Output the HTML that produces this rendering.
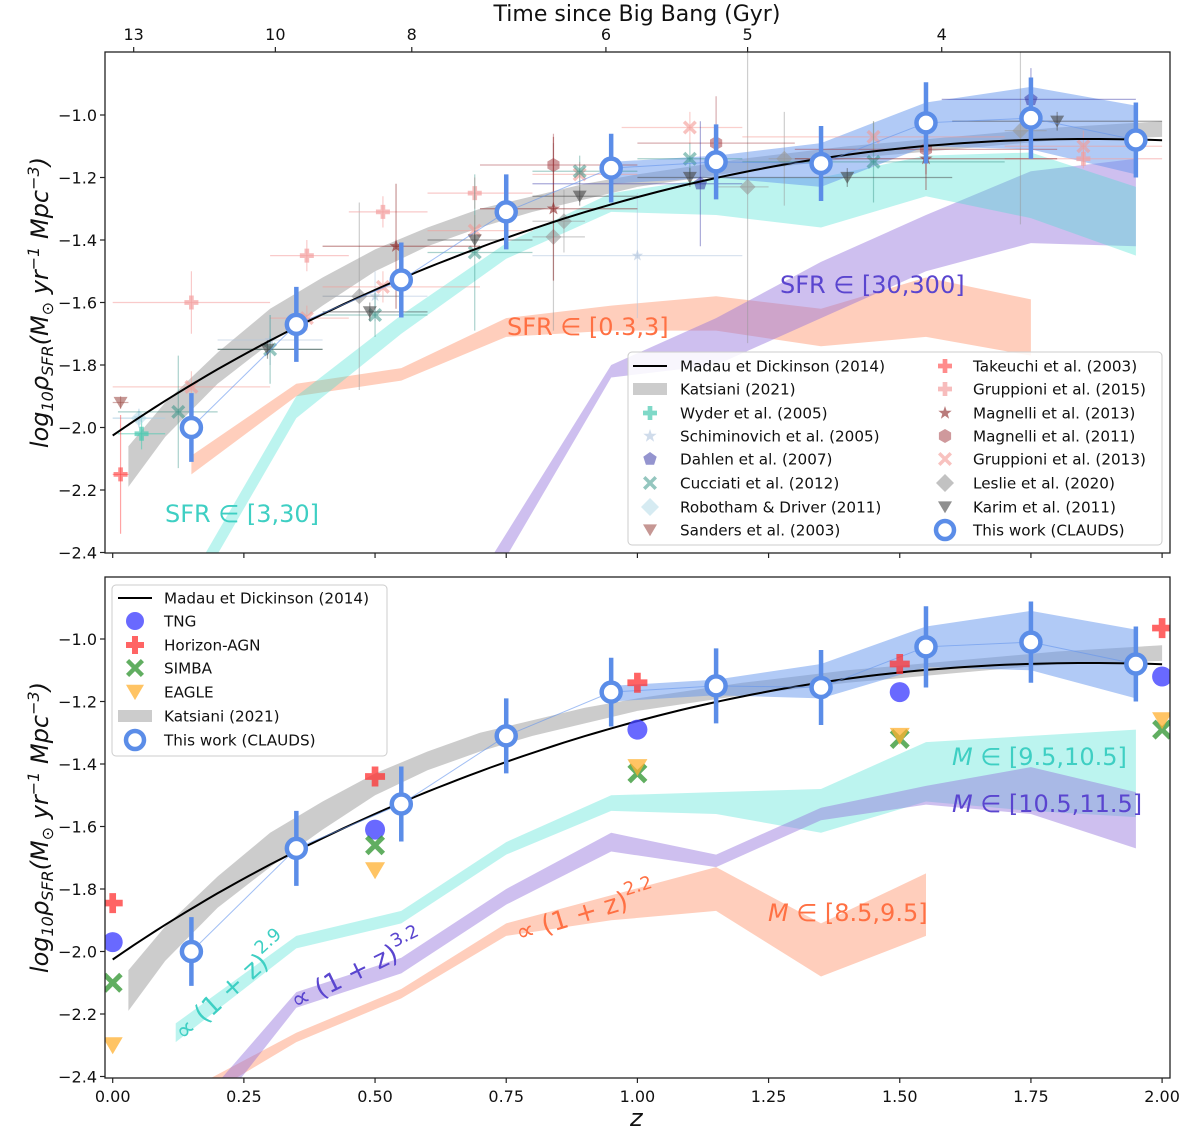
<!DOCTYPE html>
<html><head><meta charset="utf-8"><style>
html,body{margin:0;padding:0;background:#fff}
svg{display:block;font-family:"DejaVu Sans","Liberation Sans",sans-serif}
</style></head><body>
<svg id="fig" width="1200" height="1133" viewBox="0 0 1200 1133" xmlns="http://www.w3.org/2000/svg">
<defs>
<clipPath id="clipTop"><rect x="105" y="52" width="1065" height="501"/></clipPath>
<clipPath id="clipBot"><rect x="105" y="577" width="1065" height="501"/></clipPath>
</defs>
<g id="topPanel"></g>
<g id="botPanel"></g>
</svg>
<script>
// ---------- data ----------
const claudsZ = [0.15,0.35,0.55,0.75,0.95,1.15,1.35,1.55,1.75,1.95];
const claudsV = [-2.00,-1.67,-1.528,-1.31,-1.17,-1.15,-1.155,-1.025,-1.01,-1.08];
const claudsErr = [0.11,0.12,0.12,0.12,0.11,0.12,0.12,0.13,0.13,0.12];
const katZ  = [0.03,0.1,0.2,0.3,0.4,0.5,0.6,0.7,0.8,0.9,1.0,1.2,1.4,1.6,1.8,2.0];
const katLo = [-2.19,-2.03,-1.86,-1.73,-1.61,-1.50,-1.42,-1.36,-1.31,-1.27,-1.23,-1.18,-1.14,-1.11,-1.08,-1.07];
const katHi = [-2.06,-1.92,-1.76,-1.62,-1.52,-1.43,-1.36,-1.30,-1.26,-1.22,-1.19,-1.14,-1.10,-1.07,-1.04,-1.02];
const blueZ = [0.95,1.15,1.35,1.55,1.75,1.95];
const blueTopHi = [-1.15,-1.13,-1.09,-0.96,-0.91,-0.97];
const blueTopLo = [-1.22,-1.20,-1.23,-1.10,-1.11,-1.19];
const blueBotHi = [-1.15,-1.13,-1.08,-0.96,-0.91,-0.97];
const blueBotLo = [-1.20,-1.18,-1.19,-1.09,-1.10,-1.19];
const sfrMidZ = [0.15,0.35,0.55,0.75,0.95,1.15,1.35,1.55,1.75,1.95];
const sfrMidLo = [-2.55,-1.97,-1.70,-1.46,-1.31,-1.32,-1.36,-1.26,-1.33,-1.45];
const sfrMidHi = [-2.48,-1.90,-1.64,-1.41,-1.25,-1.20,-1.20,-1.13,-1.12,-1.23];
const sfrLowZ = [0.15,0.35,0.55,0.75,0.95,1.15,1.35,1.55,1.75];
const sfrLowLo = [-2.15,-1.90,-1.85,-1.71,-1.69,-1.69,-1.74,-1.71,-1.77];
const sfrLowHi = [-2.09,-1.86,-1.81,-1.65,-1.61,-1.58,-1.62,-1.52,-1.59];
const sfrHighZ = [0.72,0.95,1.15,1.35,1.55,1.75,1.95];
const sfrHighLo = [-2.50,-1.84,-1.80,-1.65,-1.50,-1.41,-1.42];
const sfrHighHi = [-2.42,-1.80,-1.65,-1.47,-1.32,-1.18,-1.14];
const mMidZ = [0.12,0.35,0.55,0.75,0.95,1.15,1.35,1.55,1.75,1.95];
const mMidLo = [-2.29,-1.99,-1.91,-1.69,-1.55,-1.56,-1.62,-1.52,-1.55,-1.57];
const mMidHi = [-2.23,-1.95,-1.87,-1.65,-1.50,-1.49,-1.48,-1.33,-1.31,-1.29];
const mHighZ = [0.20,0.35,0.55,0.75,0.95,1.15,1.35,1.55,1.75,1.95];
const mHighLo = [-2.50,-2.18,-2.07,-1.85,-1.68,-1.73,-1.58,-1.53,-1.56,-1.67];
const mHighHi = [-2.42,-2.13,-2.02,-1.80,-1.62,-1.69,-1.54,-1.47,-1.41,-1.49];
const mLowZ = [0.17,0.35,0.55,0.75,0.95,1.15,1.35,1.55];
const mLowLo = [-2.47,-2.29,-2.15,-1.95,-1.90,-1.87,-2.08,-1.95];
const mLowHi = [-2.42,-2.26,-2.12,-1.91,-1.82,-1.73,-1.91,-1.75];
const simZ = [0,0.5,1.0,1.5,2.0];
const tngV = [-1.97,-1.61,-1.29,-1.17,-1.12];
const hagnV = [-1.845,-1.44,-1.14,-1.08,-0.965];
const simbaV = [-2.10,-1.66,-1.43,-1.32,-1.29];
const eagleV = [-2.30,-1.74,-1.41,-1.31,-1.26];
const wyder = [[0.055,-2.02,0.01,0.1,0.05]];
const schim = [[0.05,-1.97,0.0,0.1,0.03],[0.3,-1.72,0.2,0.4,0.08],[0.5,-1.58,0.4,0.6,0.08],[1.0,-1.45,0.8,1.2,0.2]];
const dahlen = [[1.12,-1.22,0.8,1.2,0.2],[1.75,-0.95,1.58,1.95,0.1]];
const cucciati = [[0.125,-1.95,0.01,0.2,0.18],[0.3,-1.75,0.2,0.4,0.11],[0.5,-1.64,0.4,0.6,0.07],[0.69,-1.44,0.6,0.8,0.25],[0.89,-1.18,0.8,1.0,0.05],[1.1,-1.14,1.0,1.2,0.05],[1.45,-1.15,1.2,1.7,0.13]];
const robotham = [[0.05,-1.97,0.0,0.1,0.03]];
const sanders = [[0.015,-1.92,0.0,0.03,0.02]];
const takeuchi = [[0.015,-2.15,0.0,0.03,0.19]];
const grup15 = [[0.15,-1.60,0.0,0.3,0.1],[0.37,-1.45,0.3,0.45,0.05],[0.515,-1.31,0.45,0.6,0.05],[0.69,-1.25,0.6,0.8,0.05],[1.85,-1.14,1.7,2.0,0.03]];
const magn13 = [[0.54,-1.42,0.4,0.7,0.2],[0.84,-1.30,0.7,1.0,0.23],[1.55,-1.14,1.3,1.8,0.1]];
const magn11 = [[0.84,-1.16,0.7,1.0,0.1],[1.15,-1.09,1.0,1.3,0.15],[1.55,-1.11,1.3,1.8,0.08]];
const grup13 = [[0.15,-1.87,0.0,0.3,0.05],[0.37,-1.65,0.3,0.45,0.04],[0.515,-1.55,0.4,0.7,0.05],[0.69,-1.37,0.6,0.8,0.05],[0.89,-1.19,0.8,1.0,0.04],[1.1,-1.04,0.97,1.2,0.05],[1.45,-1.07,1.2,1.7,0.05],[1.85,-1.10,1.7,2.0,0.05]];
const leslie = [[0.47,-1.58,0.4,0.55,0.3],[0.84,-1.39,0.8,0.9,0.3],[0.86,-1.34,0.8,0.9,0.1],[1.21,-1.23,1.15,1.25,0.5],[1.28,-1.14,1.25,1.35,0.15],[1.73,-1.05,1.7,1.78,0.3]];
const karim = [[0.295,-1.75,0.2,0.4,0.03],[0.49,-1.63,0.4,0.6,0.03],[0.69,-1.40,0.6,0.8,0.03],[0.89,-1.26,0.8,1.0,0.03],[1.1,-1.20,1.0,1.2,0.03],[1.4,-1.20,1.2,1.6,0.03],[1.8,-1.02,1.6,2.0,0.03]];
const xTicks = [0,0.25,0.5,0.75,1.0,1.25,1.5,1.75,2.0];
const xTickLabels = ["0.00","0.25","0.50","0.75","1.00","1.25","1.50","1.75","2.00"];
const yTicks = [-1.0,-1.2,-1.4,-1.6,-1.8,-2.0,-2.2,-2.4];
const yTickLabels = ["\u22121.0","\u22121.2","\u22121.4","\u22121.6","\u22121.8","\u22122.0","\u22122.2","\u22122.4"];
const timeTickLabels = ["13","10","8","6","5","4"];
const timeTickZ = [0.04,0.31,0.57,0.94,1.21,1.58];

// ---------- helpers ----------
const NS="http://www.w3.org/2000/svg";
const X = z => 112.7 + z*524.7;
const Yt = v => 115 + (-1 - v)*312.5;
const Yb = v => 639 + (-1 - v)*312.5;
function el(tag, attrs, parent){const e=document.createElementNS(NS,tag);for(const k in attrs)e.setAttribute(k,attrs[k]);if(parent)parent.appendChild(e);return e;}
function band(parent, zs, lo, hi, Y, fill, name){
  let d="M"+zs.map((z,i)=>X(z).toFixed(1)+","+Y(hi[i]).toFixed(1)).join("L");
  for(let i=zs.length-1;i>=0;i--) d+="L"+X(zs[i]).toFixed(1)+","+Y(lo[i]).toFixed(1);
  const p=el("path",{d:d+"Z",fill:fill,stroke:"none"},parent);
  
  
  return p;
}
function marker(parent, shape, cx, cy, s, color, op){
  const g=el("g",{fill:color,"fill-opacity":op,stroke:"none"},parent);
  if(shape==="P"){el("path",{d:`M${cx-s/3},${cy-s}h${2*s/3}v${2*s/3}h${2*s/3}v${2*s/3}h${-2*s/3}v${2*s/3}h${-2*s/3}v${-2*s/3}h${-2*s/3}v${-2*s/3}h${2*s/3}z`},g);}
  else if(shape==="X"){const w=s*0.35;el("path",{d:`M${cx},${cy-w} L${cx+s-w},${cy-s} L${cx+s},${cy-s+w} L${cx+w},${cy} L${cx+s},${cy+s-w} L${cx+s-w},${cy+s} L${cx},${cy+w} L${cx-s+w},${cy+s} L${cx-s},${cy+s-w} L${cx-w},${cy} L${cx-s},${cy-s+w} L${cx-s+w},${cy-s} Z`},g);}
  else if(shape==="D"){el("path",{d:`M${cx},${cy-s}L${cx+s},${cy}L${cx},${cy+s}L${cx-s},${cy}Z`},g);}
  else if(shape==="v"){el("path",{d:`M${cx-s},${cy-s*0.8}L${cx+s},${cy-s*0.8}L${cx},${cy+s*0.9}Z`},g);}
  else if(shape==="o"){el("circle",{cx:cx,cy:cy,r:s},g);}
  else {
    let pts=[];const star=shape==="*";const n=star?10:(shape==="p"?5:6);
    for(let i=0;i<n;i++){const a=-Math.PI/2+i*Math.PI*2/n;const r=star?(i%2?s*0.4:s):s;pts.push((cx+r*Math.cos(a)).toFixed(1)+","+(cy+r*Math.sin(a)).toFixed(1));}
    el("polygon",{points:pts.join(" ")},g);
  }
  return g;
}
function litSet(parent, data, shape, color, op, s, name){
  const g=el("g",{},parent);
  
  
  data.forEach(r=>{
    const cx=X(r[0]),cy=Yt(r[1]);
    el("line",{x1:X(r[2]),x2:X(r[3]),y1:cy,y2:cy,stroke:color,"stroke-opacity":op*0.8,"stroke-width":1.2},g);
    el("line",{x1:cx,x2:cx,y1:Yt(r[1]+r[4]),y2:Yt(r[1]-r[4]),stroke:color,"stroke-opacity":op*0.8,"stroke-width":1.2},g);
    marker(g,shape,cx,cy,s,color,op);
  });
}
function madau(z){return Math.log10(0.015*0.63*Math.pow(1+z,2.7)/(1+Math.pow((1+z)/2.9,5.6)));}
const madauZ=[];for(let i=0;i<=100;i++)madauZ.push(i*0.02);
function madauLine(parent,Y){
  const p=el("polyline",{points:madauZ.map(z=>X(z).toFixed(1)+","+Y(madau(z)).toFixed(1)).join(" "),fill:"none",stroke:"#000","stroke-width":2},parent);
  
  
}
function clauds(parent,Y){
  const g=el("g",{},parent);
  
  
  el("polyline",{points:claudsZ.map((z,i)=>X(z)+","+Y(claudsV[i])).join(" "),fill:"none",stroke:"#6495ed","stroke-width":1,"stroke-opacity":0.6},g);
  claudsZ.forEach((z,i)=>{
    el("line",{x1:X(z),x2:X(z),y1:Y(claudsV[i]+claudsErr[i]),y2:Y(claudsV[i]-claudsErr[i]),stroke:"#5b8de8","stroke-width":4.5},g);
    el("circle",{cx:X(z),cy:Y(claudsV[i]),r:9.5,fill:"#fff",stroke:"#5b8de8","stroke-width":4.5},g);
  });
}
function axes(parent, y0, y1, showXLabels){
  el("rect",{x:105,y:y0,width:1065,height:y1-y0,fill:"none",stroke:"#222","stroke-width":1.3},parent);
  const Y = v => y0===52?Yt(v):Yb(v);
  const gx=el("g",{},parent);
  
  
  xTicks.forEach((t,i)=>{
    el("line",{x1:X(t),x2:X(t),y1:y1,y2:y1+5,stroke:"#222","stroke-width":1.2},gx);
    if(showXLabels){const tx=el("text",{x:X(t),y:y1+24,"text-anchor":"middle","font-size":16,fill:"#111"},gx);tx.textContent=xTickLabels[i];}
  });
  const gy=el("g",{},parent);
  
  
  yTicks.forEach((t,i)=>{
    el("line",{x1:100,x2:105,y1:Y(t),y2:Y(t),stroke:"#222","stroke-width":1.2},gy);
    const tx=el("text",{x:97,y:Y(t)+6,"text-anchor":"end","font-size":16,fill:"#111"},gy);tx.textContent=yTickLabels[i];
  });
  const yl=el("text",{transform:`translate(48,${(y0+y1)/2}) rotate(-90)`,"text-anchor":"middle","font-size":24,"font-style":"italic",fill:"#111"},parent);
  
  
  yl.innerHTML='log<tspan font-size="16" dy="5">10</tspan><tspan dy="-5">ρ</tspan><tspan font-size="16" dy="5">SFR</tspan><tspan dy="-5">(M</tspan><tspan font-size="16" dy="5">⊙</tspan><tspan dy="-5"> yr</tspan><tspan font-size="16" dy="-9">−1</tspan><tspan dy="9"> Mpc</tspan><tspan font-size="16" dy="-9">−3</tspan><tspan dy="9">)</tspan>';
}
function label(parent,x,y,txt,color,size,name,rot){
  const t=el("text",{x:x,y:y,fill:color,"font-size":size},parent);
  if(rot)t.setAttribute("transform",`rotate(${rot} ${x} ${y})`);
  t.innerHTML=txt;
  
  
  return t;
}
function legend(parent,x,y,w,h,name){
  el("rect",{x:x,y:y,width:w,height:h,rx:4,fill:"#fff","fill-opacity":0.85,stroke:"#ccc","stroke-width":1},parent);
  const g=el("g",{},parent);
  
  
  return g;
}
function legEntry(g,mx,tx,y,drawFn,text){
  const e=el("g",{},g);
  
  
  drawFn(e,mx,y);
  const t=el("text",{x:tx,y:y+5.5,"font-size":15.2,fill:"#111"},e);t.textContent=text;
}

// ---------- TOP PANEL ----------
const topG=document.getElementById("topPanel");
const tc=el("g",{"clip-path":"url(#clipTop)"},topG);
band(tc,sfrLowZ,sfrLowLo,sfrLowHi,Yt,"rgba(255,127,80,0.38)","sfr-band-0.3-3");
band(tc,sfrHighZ,sfrHighLo,sfrHighHi,Yt,"rgba(147,112,219,0.45)","sfr-band-30-300");
band(tc,sfrMidZ,sfrMidLo,sfrMidHi,Yt,"rgba(64,224,208,0.35)","sfr-band-3-30");
band(tc,katZ,katLo,katHi,Yt,"rgba(128,128,128,0.4)","katsiani-band");
band(tc,blueZ,blueTopLo,blueTopHi,Yt,"rgba(100,149,237,0.5)","clauds-band");
litSet(tc,schim,"*","#b0c4de",0.6,6,"schiminovich-points");
litSet(tc,leslie,"D","#999999",0.6,8,"leslie-points");
litSet(tc,grup15,"P","#f4a0a0",0.7,7,"gruppioni2015-points");
litSet(tc,grup13,"X","#f49a94",0.6,7,"gruppioni2013-points");
litSet(tc,wyder,"P","#48c9b0",0.7,7,"wyder-points");
litSet(tc,robotham,"D","#add8e6",0.5,8,"robotham-points");
litSet(tc,sanders,"v","#a0524d",0.6,7,"sanders-points");
litSet(tc,takeuchi,"P","#ff4040",0.6,7,"takeuchi-points");
litSet(tc,cucciati,"X","#2a8d80",0.5,7,"cucciati-points");
litSet(tc,karim,"v","#444",0.6,7,"karim-points");
litSet(tc,magn13,"*","#8b2323",0.6,7,"magnelli2013-points");
litSet(tc,magn11,"h","#a0333a",0.5,7,"magnelli2011-points");
litSet(tc,dahlen,"p","#2a2aa0",0.5,7,"dahlen-points");
madauLine(tc,Yt);
clauds(tc,Yt);
label(topG,165,522,"SFR ∈ [3,30]","#3ecfc3",24,"label-sfr-3-30");
label(topG,507,335,"SFR ∈ [0.3,3]","#ff7043",24,"label-sfr-0.3-3");
label(topG,780,293,"SFR ∈ [30,300]","#5a45cf",24,"label-sfr-30-300");
axes(topG,52,553,false);
const ta=el("g",{},topG);


timeTickZ.forEach((z,i)=>{
  el("line",{x1:X(z),x2:X(z),y1:47,y2:52,stroke:"#222","stroke-width":1.2},ta);
  const t=el("text",{x:X(z),y:40,"text-anchor":"middle","font-size":16,fill:"#111"},ta);t.textContent=timeTickLabels[i];
});
label(topG,637,21,"Time since Big Bang (Gyr)","#111",22,"time-axis-title").setAttribute("text-anchor","middle");
const lg=legend(topG,628,352,534,193,"top-legend");
const rowsY=[366,389,413,436,459,483,507,530];
const lineFn=(e,x,y)=>el("line",{x1:x-17,x2:x+17,y1:y,y2:y,stroke:"#000","stroke-width":2},e);
const katFn=(e,x,y)=>el("rect",{x:x-17,y:y-6,width:34,height:12,fill:"rgba(128,128,128,0.4)"},e);
const mk=(shape,color,op,s)=>(e,x,y)=>marker(e,shape,x,y,s,color,op);
const claudsFn=(e,x,y)=>el("circle",{cx:x,cy:y,r:9,fill:"#fff",stroke:"#5b8de8","stroke-width":4.5},e);
const leftItems=[[lineFn,"Madau et Dickinson (2014)"],[katFn,"Katsiani (2021)"],[mk("P","#48c9b0",0.7,7),"Wyder et al. (2005)"],[mk("*","#b0c4de",0.6,7),"Schiminovich et al. (2005)"],[mk("p","#2a2aa0",0.5,7),"Dahlen et al. (2007)"],[mk("X","#2a8d80",0.5,7),"Cucciati et al. (2012)"],[mk("D","#add8e6",0.5,9),"Robotham & Driver (2011)"],[mk("v","#a0524d",0.6,7),"Sanders et al. (2003)"]];
const rightItems=[[mk("P","#ff4040",0.6,7),"Takeuchi et al. (2003)"],[mk("P","#f4a0a0",0.7,7),"Gruppioni et al. (2015)"],[mk("*","#8b2323",0.6,7),"Magnelli et al. (2013)"],[mk("h","#a0333a",0.5,7),"Magnelli et al. (2011)"],[mk("X","#f49a94",0.6,7),"Gruppioni et al. (2013)"],[mk("D","#999",0.6,9),"Leslie et al. (2020)"],[mk("v","#444",0.6,7),"Karim et al. (2011)"],[claudsFn,"This work (CLAUDS)"]];
leftItems.forEach((it,i)=>legEntry(lg,650,680,rowsY[i],it[0],it[1]));
rightItems.forEach((it,i)=>legEntry(lg,945,973,rowsY[i],it[0],it[1]));

// ---------- BOTTOM PANEL ----------
const botG=document.getElementById("botPanel");
const bc=el("g",{"clip-path":"url(#clipBot)"},botG);
band(bc,mLowZ,mLowLo,mLowHi,Yb,"rgba(255,127,80,0.38)","mass-band-8.5-9.5");
band(bc,mMidZ,mMidLo,mMidHi,Yb,"rgba(64,224,208,0.35)","mass-band-9.5-10.5");
band(bc,mHighZ,mHighLo,mHighHi,Yb,"rgba(147,112,219,0.45)","mass-band-10.5-11.5");
band(bc,katZ,katLo,katHi,Yb,"rgba(128,128,128,0.4)","katsiani-band-bottom");
band(bc,blueZ,blueBotLo,blueBotHi,Yb,"rgba(100,149,237,0.5)","clauds-band-bottom");
madauLine(bc,Yb);
clauds(bc,Yb);
const sims=[[tngV,"o","#4444ff",0.8,10,"tng-points"],[hagnV,"P","#ff3030",0.75,10,"horizon-agn-points"],[simbaV,"X","#3a9a3a",0.8,10,"simba-points"],[eagleV,"v","#ffb030",0.75,10,"eagle-points"]];
sims.forEach(s=>{
  const g=el("g",{},bc);
  
  
  simZ.forEach((z,i)=>marker(g,s[1],X(z),Yb(s[0][i]),s[4],s[2],s[3]));
});
label(botG,952,765,"<tspan font-style='italic'>M</tspan> ∈ [9.5,10.5]","#3ecfc3",24,"label-mass-9.5-10.5");
label(botG,952,812,"<tspan font-style='italic'>M</tspan> ∈ [10.5,11.5]","#5a45cf",24,"label-mass-10.5-11.5");
label(botG,768,921,"<tspan font-style='italic'>M</tspan> ∈ [8.5,9.5]","#ff7043",24,"label-mass-8.5-9.5");
label(botG,184,1042,"∝ (1 + z)<tspan font-size='18' dy='-13'>2.9</tspan>","#3ecfc3",26,"label-slope-2.9",-42);
label(botG,296,1010,"∝ (1 + z)<tspan font-size='18' dy='-13'>3.2</tspan>","#5a45cf",26,"label-slope-3.2",-26);
label(botG,519,942,"∝ (1 + z)<tspan font-size='18' dy='-13'>2.2</tspan>","#ff7043",26,"label-slope-2.2",-17);
axes(botG,577,1078,true);
label(botG,630,1126,"z","#111",24,"x-axis-title").setAttribute("font-style","italic");
const lb=legend(botG,112,585,275,171,"bottom-legend");
const bRows=[598,621,645,668,692,716,740];
const bItems=[[lineFn,"Madau et Dickinson (2014)"],[mk("o","#4444ff",0.8,9),"TNG"],[mk("P","#ff3030",0.75,9),"Horizon-AGN"],[mk("X","#3a9a3a",0.8,9),"SIMBA"],[mk("v","#ffb030",0.75,9),"EAGLE"],[katFn,"Katsiani (2021)"],[claudsFn,"This work (CLAUDS)"]];
bItems.forEach((it,i)=>legEntry(lb,135,164,bRows[i],it[0],it[1]));
</script>
</body></html>
